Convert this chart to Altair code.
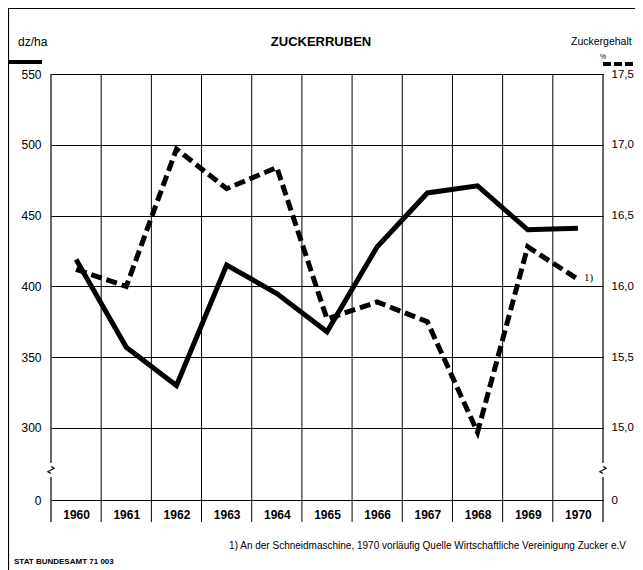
import altair as alt
import pandas as pd

# ---- data ----
years = [1960, 1961, 1962, 1963, 1964, 1965, 1966, 1967, 1968, 1969, 1970]
ertrag = [419, 357, 330, 415, 395, 368, 428, 466, 471, 440, 441]          # dz/ha (solid)
zucker = [16.12, 16.00, 16.97, 16.69, 16.84, 15.77, 15.89, 15.75, 14.97, 16.28, 16.05]  # % (dashed)
left_ticks = [0, 300, 350, 400, 450, 500, 550]
right_ticks = [0, 15.0, 15.5, 16.0, 16.5, 17.0, 17.5]

title_text = "ZUCKERRUBEN"
left_title = "dz/ha"
right_title = "Zuckergehalt"
right_unit = "%"
footnote = "1) An der Schneidmaschine, 1970 vorläufig  Quelle  Wirtschaftliche Vereinigung Zucker e.V"
source = "STAT BUNDESAMT 71 003"

# ---- layout ----
W, H = 552, 426
L_MIN, L_MAX = 249.15, 550      # axis break: bottom line stands for 0
R_MIN, R_MAX = 14.4915, 17.5
FONT = "Liberation Sans"

df = pd.DataFrame({"Jahr": years, "Ertrag": ertrag, "Zucker": zucker})
inner_df = pd.DataFrame({"Jahr": [y + 0.5 for y in years[:-1]]})
edge_df = pd.DataFrame({"Jahr": [years[0] - 0.5, years[-1] + 0.5]})

left_vals = [L_MIN if v == 0 else v for v in left_ticks]
right_vals = [R_MIN if v == 0 else v for v in right_ticks]

xscale = alt.Scale(domain=[years[0] - 0.5, years[-1] + 0.5], nice=False, zero=False)
lscale = alt.Scale(domain=[L_MIN, L_MAX], nice=False, zero=False)
rscale = alt.Scale(domain=[R_MIN, R_MAX], nice=False, zero=False)

x_enc = alt.X("Jahr:Q", scale=xscale, title=None,
              axis=alt.Axis(values=years, format="d", ticks=False, domain=False, grid=False,
                            labelPadding=9, labelFontSize=12, labelFont=FONT,
                            labelFontWeight="bold", labelColor="black", title=None))
x_plain = alt.X("Jahr:Q", scale=xscale, title=None)

solid = alt.Chart(df).mark_line(color="black", strokeWidth=5, strokeJoin="miter").encode(
    x=x_enc,
    y=alt.Y("Ertrag:Q", scale=lscale, title=None,
            axis=alt.Axis(values=left_vals, title=None, ticks=False, domain=False,
                          grid=True, gridColor="black", gridWidth=1, gridOpacity=1,
                          labelPadding=10, labelFontSize=12, labelFont=FONT, labelColor="black",
                          labelExpr="datum.value < 299 ? '0' : format(datum.value, 'd')")),
)

dashed = alt.Chart(df).mark_line(color="black", strokeWidth=5, strokeDash=[11, 5],
                                 strokeJoin="miter").encode(
    x=x_plain,
    y=alt.Y("Zucker:Q", scale=rscale, title=None,
            axis=alt.Axis(orient="right", values=right_vals, title=None, ticks=False,
                          domain=False, grid=False, labelPadding=8, labelFontSize=11.5,
                          labelFont=FONT, labelColor="black",
                          labelExpr="datum.value < 14.9 ? '0' : replace(format(datum.value, '.1f'), '.', ',')")),
)

note_mark = alt.Chart(df.tail(1)).mark_text(text="1)", align="left", baseline="middle", dx=6, dy=-1,
                                            font="Liberation Serif", fontSize=11, color="black").encode(
    x=x_plain, y=alt.Y("Zucker:Q", scale=rscale, axis=None))

inner = alt.Chart(inner_df).mark_rule(color="black", strokeWidth=1).encode(
    x=x_plain, y=alt.value(0), y2=alt.value(448))
edge_top = alt.Chart(edge_df).mark_rule(color="black", strokeWidth=1.2).encode(
    x=x_plain, y=alt.value(0), y2=alt.value(389))
edge_bot = alt.Chart(edge_df).mark_rule(color="black", strokeWidth=1.2).encode(
    x=x_plain, y=alt.value(403), y2=alt.value(448))
zig = alt.Chart(edge_df).mark_point(shape="M0,-0.5L0.45,-0.25L-0.45,0.25L0,0.5", size=196,
                                    filled=False, color="black", strokeWidth=1.2, opacity=1).encode(
    x=x_plain, y=alt.value(396))

one = alt.Data(values=[{}])

def txt(s, x, y, size, align="left", weight="normal", font=FONT):
    return alt.Chart(one).mark_text(text=s, align=align, baseline="middle", fontSize=size,
                                    font=font, fontWeight=weight, color="black").encode(
        x=alt.value(x), y=alt.value(y))

def bar(x1, x2, y, dash=None):
    kw = dict(color="black", strokeWidth=4)
    if dash:
        kw["strokeDash"] = dash
    return alt.Chart(one).mark_rule(**kw).encode(x=alt.value(x1), x2=alt.value(x2), y=alt.value(y))

frame_l = alt.Chart(one).mark_rule(color="black", strokeWidth=1.2).encode(
    x=alt.value(-42.5), y=alt.value(-66), y2=alt.value(504))
frame_t = alt.Chart(one).mark_rule(color="black", strokeWidth=1.2).encode(
    x=alt.value(-43), x2=alt.value(584), y=alt.value(-65.5))

chart = alt.layer(
    solid, dashed, note_mark,
    inner, edge_top, edge_bot, zig,
    frame_l, frame_t,
    txt(left_title, -33, -32, 12),
    txt(title_text, 270, -32, 13, align="center", weight="bold"),
    txt(right_title, 520, -32, 10.5),
    txt(right_unit, 549, -17, 7),
    bar(-42, -9, -12),
    bar(552, 582, -10, dash=[8, 3]),
    txt(footnote, 575, 472, 10, align="right"),
    txt(source, -37, 488, 8, weight="bold"),
).resolve_scale(y="independent").properties(
    width=W, height=H,
    autosize=alt.AutoSizeParams(type="none"),
    padding={"left": 43, "top": 66, "right": 32, "bottom": 70},
).configure_view(stroke=None)

chart.save("out.html", embed_options={"renderer": "svg", "actions": False})
